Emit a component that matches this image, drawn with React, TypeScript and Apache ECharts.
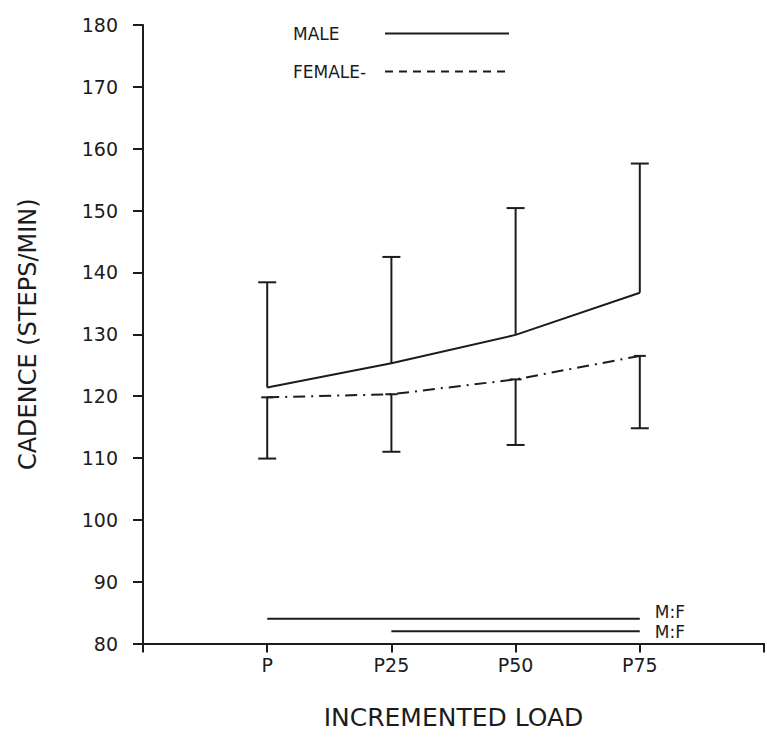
import React, { useEffect, useRef } from "react";
import * as echarts from "echarts";

// Load conditions along the x axis (blank slots pad both ends of the axis)
const loadLabels = ["", "P", "P25", "P50", "P75", ""];
const loadIndex = [1, 2, 3, 4];

// Cadence (steps/min): means with one-sided SD bars
const maleMean = [121.4, 125.3, 129.9, 136.7];
const maleUpper = [138.4, 142.5, 150.4, 157.6];
const femaleMean = [119.8, 120.3, 122.7, 126.5];
const femaleLower = [109.9, 111.0, 112.1, 114.8];

// Male vs female significance bars drawn under the curves
const sigFrom = [1, 2];
const sigTo = [4, 4];
const sigLevel = [84, 82];
const sigText = ["M:F", "M:F"];

const INK = "#1c1c1c";
const FONT = "DejaVu Sans";

function errorBar(topHalf: number, bottomHalf: number) {
  return (_params: any, api: any) => {
    const x = api.value(0);
    const top = api.coord([x, api.value(2)]);
    const bottom = api.coord([x, api.value(1)]);
    const style = { stroke: INK, lineWidth: 2 };
    const children: any[] = [
      { type: "line", shape: { x1: top[0], y1: top[1], x2: bottom[0], y2: bottom[1] }, style },
    ];
    if (topHalf > 0) {
      children.push({
        type: "line",
        shape: { x1: top[0] - topHalf, y1: top[1], x2: top[0] + topHalf, y2: top[1] },
        style,
      });
    }
    if (bottomHalf > 0) {
      children.push({
        type: "line",
        shape: { x1: bottom[0] - bottomHalf, y1: bottom[1], x2: bottom[0] + bottomHalf, y2: bottom[1] },
        style,
      });
    }
    return { type: "group", children };
  };
}

export default function App() {
  const ref = useRef<HTMLDivElement>(null);

  useEffect(() => {
    if (!ref.current) return;
    const chart = echarts.init(ref.current, undefined, { renderer: "svg" });

    const sigSeries = sigLevel.map((level, i) => ({
      type: "line",
      name: "sig" + i,
      symbol: "none",
      silent: true,
      lineStyle: { color: INK, width: 2 },
      endLabel: {
        show: true,
        distance: 15,
        offset: [0, i === 0 ? -7 : 1],
        formatter: sigText[i],
        color: INK,
        fontFamily: FONT,
        fontSize: 17,
      },
      data: [
        [sigFrom[i], level],
        [sigTo[i], level],
      ],
    }));

    chart.setOption({
      animation: false,
      backgroundColor: "#ffffff",
      grid: { left: 143, top: 25, right: 1, bottom: 102.5, containLabel: false },
      legend: {
        orient: "vertical",
        left: 288,
        top: 20,
        align: "right",
        itemWidth: 124,
        itemHeight: 14,
        itemGap: 21,
        itemStyle: { opacity: 0 },
        data: [{ name: "MALE" }, { name: "FEMALE", lineStyle: { type: [8, 6] } }],
        formatter: (name: string) => `{n|${name === "FEMALE" ? "FEMALE-" : name}}`,
        textStyle: {
          color: INK,
          fontFamily: FONT,
          fontSize: 17,
          rich: { n: { width: 87, align: "left", color: INK, fontFamily: FONT, fontSize: 17 } },
        },
      },
      xAxis: {
        type: "value",
        min: 0,
        max: 5,
        interval: 1,
        name: "INCREMENTED LOAD",
        nameLocation: "middle",
        nameGap: 61,
        nameTextStyle: { color: INK, fontFamily: FONT, fontSize: 25 },
        axisLine: { show: true, lineStyle: { color: INK, width: 2 } },
        axisTick: { show: true, length: 9, lineStyle: { color: INK, width: 2 } },
        axisLabel: {
          formatter: (v: number) => loadLabels[Math.round(v)] ?? "",
          margin: 12,
          color: INK,
          fontFamily: FONT,
          fontSize: 19,
        },
        splitLine: { show: false },
      },
      yAxis: {
        type: "value",
        min: 80,
        max: 180,
        interval: 10,
        name: "CADENCE (STEPS/MIN)",
        nameLocation: "middle",
        nameGap: 103,
        nameRotate: 90,
        nameTextStyle: { color: INK, fontFamily: FONT, fontSize: 24 },
        axisLine: { show: true, lineStyle: { color: INK, width: 2 } },
        axisTick: { show: true, length: 10, lineStyle: { color: INK, width: 2 } },
        axisLabel: { margin: 25, color: INK, fontFamily: FONT, fontSize: 19 },
        splitLine: { show: false },
      },
      series: [
        {
          type: "line",
          name: "MALE",
          symbol: "none",
          lineStyle: { color: INK, width: 2 },
          itemStyle: { color: INK },
          data: loadIndex.map((x, i) => [x, maleMean[i]]),
          z: 3,
        },
        {
          type: "line",
          name: "FEMALE",
          symbol: "none",
          lineStyle: { color: INK, width: 2, type: [12, 6, 2, 6] },
          itemStyle: { color: INK },
          data: loadIndex.map((x, i) => [x, femaleMean[i]]),
          z: 3,
        },
        {
          type: "custom",
          name: "MALE SD",
          renderItem: errorBar(9, 0),
          encode: { x: 0, y: [1, 2] },
          data: loadIndex.map((x, i) => [x, maleMean[i], maleUpper[i]]),
          silent: true,
        },
        {
          type: "custom",
          name: "FEMALE SD",
          renderItem: errorBar(6, 9),
          encode: { x: 0, y: [1, 2] },
          data: loadIndex.map((x, i) => [x, femaleLower[i], femaleMean[i]]),
          silent: true,
        },
        ...sigSeries,
      ],
    });

    return () => chart.dispose();
  }, []);

  return (
    <div
      ref={ref}
      style={{ position: "absolute", left: 0, top: 0, width: 767, height: 746 }}
    />
  );
}
